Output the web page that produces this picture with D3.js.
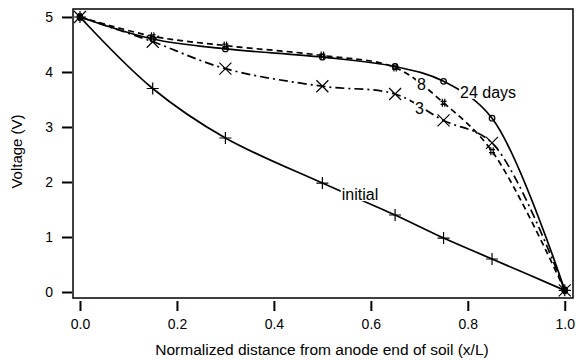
<!DOCTYPE html>
<html>
<head>
<meta charset="utf-8">
<script src="https://cdn.jsdelivr.net/npm/d3@7"></script>
<style>
  body { margin: 0; background: #fff; }
  svg { font-family: "Liberation Sans", Arial, sans-serif; }
  .frame { fill: none; stroke: #000; stroke-width: 1.5; }
  .curve { fill: none; stroke: #000; stroke-width: 1.7; }
  .mark { fill: none; stroke: #000; stroke-width: 1.2; }
  .tick line { stroke: #000; stroke-width: 2; }
  .tick text { font-size: 14px; fill: #000; }
</style>
</head>
<body>
<svg id="chart" width="576" height="360"></svg>
<script>
// distance along the soil (x/L)
const xPos = [0, 0.15, 0.3, 0.5, 0.65, 0.75, 0.85, 1.0];

// voltage profiles (V)
const vInitial = [5.0, 3.7, 2.8, 1.98, 1.4, 0.98, 0.6, 0.03];
const vDay3    = [5.0, 4.55, 4.06, 3.74, 3.6, 3.12, 2.71, 0.03];
const vDay8    = [5.0, 4.65, 4.48, 4.3, 4.08, 3.44, 2.56, 0.03];
const vDay24   = [5.0, 4.6, 4.42, 4.27, 4.1, 3.83, 3.16, 0.03];

const xTicks = [0, 0.2, 0.4, 0.6, 0.8, 1.0];
const yTicks = [0, 1, 2, 3, 4, 5];

const series = [
    {name: "initial", values: vInitial, dash: null, marker: "plus"},
    {name: "3", values: vDay3, dash: "9,4,2,4", marker: "cross"},
    {name: "8", values: vDay8, dash: "6,4", marker: "hash"},
    {name: "24", values: vDay24, dash: null, marker: "circle"}
];

// curve labels, placed in data coordinates
const labels = [
    {text: "initial", x: 0.540, y: 1.67},
    {text: "24 days", x: 0.784, y: 3.53},
    {text: "8", x: 0.695, y: 3.67},
    {text: "3", x: 0.691, y: 3.24}
];

const svg = d3.select("#chart");
const box = {left: 73, right: 573, top: 9, bottom: 298};

const x = d3.scaleLinear().domain([-0.0144, 1.017]).range([box.left, box.right]);
const y = d3.scaleLinear().domain([-0.109, 5.145]).range([box.bottom, box.top]);

// frame
svg.append("rect").attr("class", "frame")
    .attr("x", box.left).attr("y", box.top)
    .attr("width", box.right - box.left).attr("height", box.bottom - box.top);

// axes
const xAxis = svg.append("g")
    .attr("transform", `translate(0,${box.bottom + 3})`)
    .call(d3.axisBottom(x).tickValues(xTicks).tickFormat(d3.format(".1f")).tickSize(10).tickPadding(8));
xAxis.select(".domain").remove();

const yAxis = svg.append("g")
    .attr("transform", `translate(${box.left - 1},0)`)
    .call(d3.axisLeft(y).tickValues(yTicks).tickFormat(d3.format("d")).tickSize(10).tickPadding(9));
yAxis.select(".domain").remove();

svg.append("text")
    .attr("x", 322).attr("y", 355)
    .attr("text-anchor", "middle").attr("font-size", 15.5)
    .text("Normalized distance from anode end of soil (x/L)");

svg.append("text")
    .attr("transform", `translate(22,${(box.top + box.bottom) / 2 - 2}) rotate(-90)`)
    .attr("text-anchor", "middle").attr("font-size", 15)
    .text("Voltage (V)");

// curves
const line = d3.line()
    .x(d => x(d[0]))
    .y(d => y(d[1]))
    .curve(d3.curveCatmullRom.alpha(0.5));

series.forEach(s => {
    const pts = xPos.map((v, i) => [v, s.values[i]]);
    svg.append("path").attr("class", "curve")
        .attr("d", line(pts))
        .attr("stroke-dasharray", s.dash);
});

// markers
function drawMarker(g, kind, cx, cy) {
    if (kind === "plus") {
        g.append("path").attr("class", "mark")
            .attr("d", `M${cx - 6},${cy}H${cx + 6}M${cx},${cy - 6}V${cy + 6}`);
    } else if (kind === "cross") {
        g.append("path").attr("class", "mark")
            .attr("d", `M${cx - 6},${cy - 6}L${cx + 6},${cy + 6}M${cx - 6},${cy + 6}L${cx + 6},${cy - 6}`);
    } else if (kind === "hash") {
        g.append("path").attr("class", "mark")
            .attr("d", `M${cx - 3},${cy - 1.5}H${cx + 3}M${cx - 3},${cy + 1.5}H${cx + 3}` +
                       `M${cx - 1.2},${cy - 4}V${cy + 4}M${cx + 1.2},${cy - 4}V${cy + 4}`);
    } else {
        g.append("circle").attr("class", "mark")
            .attr("cx", cx).attr("cy", cy).attr("r", 2.8);
    }
}

const markG = svg.append("g");
series.forEach(s => {
    xPos.forEach((v, i) => drawMarker(markG, s.marker, x(v), y(s.values[i])));
});

// labels with white knockout
labels.forEach(l => {
    const t = svg.append("text")
        .attr("x", x(l.x)).attr("y", y(l.y))
        .attr("font-size", 16)
        .text(l.text);
    const bb = t.node().getBBox();
    svg.insert("rect", () => t.node())
        .attr("x", bb.x - 1).attr("y", bb.y + 2)
        .attr("width", bb.width + 2).attr("height", bb.height - 4)
        .attr("fill", "#fff");
});
</script>
</body>
</html>
